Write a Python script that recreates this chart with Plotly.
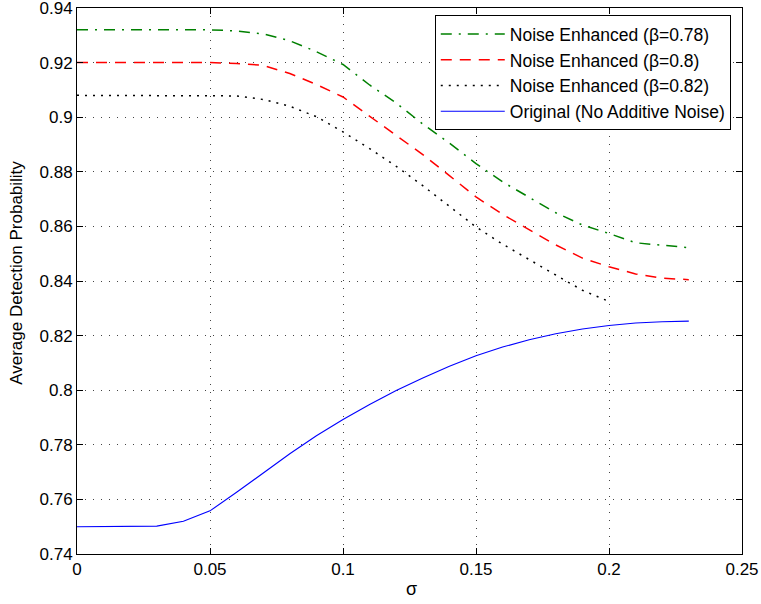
import plotly.graph_objects as go

sigma = [0.00, 0.01, 0.02, 0.03, 0.04, 0.05, 0.06, 0.07, 0.08, 0.09, 0.10, 0.11,
         0.12, 0.13, 0.14, 0.15, 0.16, 0.17, 0.18, 0.19, 0.20, 0.21, 0.22, 0.23]

pd_beta078 = [0.932, 0.932, 0.932, 0.932, 0.932, 0.932, 0.9316, 0.9305, 0.928, 0.924,
              0.9193, 0.9118, 0.9052, 0.8975, 0.8905, 0.883, 0.8763, 0.8705, 0.865,
              0.8605, 0.8574, 0.854, 0.8531, 0.8522]

pd_beta080 = [0.920, 0.920, 0.920, 0.920, 0.920, 0.920, 0.9197, 0.919, 0.916, 0.912,
              0.9074, 0.9003, 0.8933, 0.8863, 0.8786, 0.8708, 0.8644, 0.8588, 0.8532,
              0.8484, 0.8452, 0.8426, 0.841, 0.8405]

sigma_082 = sigma[:21]
pd_beta082 = [0.908, 0.908, 0.908, 0.908, 0.908, 0.908, 0.9078, 0.9065, 0.904, 0.9002,
              0.8946, 0.8885, 0.882, 0.8749, 0.8675, 0.8598, 0.8535, 0.848, 0.8422,
              0.8366, 0.8325]

pd_original = [0.750, 0.750, 0.750, 0.7502, 0.752, 0.7558, 0.7626, 0.7697, 0.7767, 0.7833,
               0.7893, 0.7948, 0.7999, 0.8045, 0.8088, 0.8126, 0.8158, 0.8185, 0.8207,
               0.8224, 0.8237, 0.8246, 0.8251, 0.8253]

series_names = ["Noise Enhanced (β=0.78)", "Noise Enhanced (β=0.8)",
                "Noise Enhanced (β=0.82)", "Original (No Additive Noise)"]

x_title = "σ"
y_title = "Average Detection Probability"

x_tickvals = [0, 0.05, 0.1, 0.15, 0.2, 0.25]
x_ticktext = ["0", "0.05", "0.1", "0.15", "0.2", "0.25"]
y_tickvals = [0.74, 0.76, 0.78, 0.80, 0.82, 0.84, 0.86, 0.88, 0.90, 0.92, 0.94]
y_ticktext = ["0.74", "0.76", "0.78", "0.8", "0.82", "0.84", "0.86", "0.88", "0.9", "0.92", "0.94"]

FONT = "Liberation Sans, Arial, Helvetica, sans-serif"

fig = go.Figure()
fig.add_trace(go.Scatter(x=sigma, y=pd_beta078, mode="lines", name=series_names[0],
                         line=dict(color="#008000", width=1.5, dash="11px,7px,2px,7px")))
fig.add_trace(go.Scatter(x=sigma, y=pd_beta080, mode="lines", name=series_names[1],
                         line=dict(color="#ff0000", width=1.5, dash="11px,8px")))
fig.add_trace(go.Scatter(x=sigma_082, y=pd_beta082, mode="lines", name=series_names[2],
                         line=dict(color="#000000", width=1.5, dash="2px,6px")))
fig.add_trace(go.Scatter(x=sigma, y=pd_original, mode="lines", name=series_names[3],
                         line=dict(color="#0000ff", width=1.1)))

axis_common = dict(
    showline=True, linecolor="black", linewidth=1, mirror="ticks",
    ticks="inside", ticklen=6, tickcolor="black", tickwidth=1,
    showgrid=True, gridcolor="#444444", gridwidth=1, griddash="1px,7px",
    zeroline=False, automargin=False, ticklabeloverflow="allow",
    tickfont=dict(family=FONT, size=17, color="black"),
)

fig.update_xaxes(range=[0, 0.25], tickvals=x_tickvals, ticktext=x_ticktext, **axis_common)
fig.update_yaxes(range=[0.74, 0.94], tickvals=y_tickvals, ticktext=y_ticktext, **axis_common)

fig.add_annotation(text=x_title, xref="paper", yref="paper", x=0.503, y=0,
                   xanchor="center", yanchor="top", yshift=-23, showarrow=False,
                   font=dict(family=FONT, size=18, color="black"))
fig.add_annotation(text=y_title, xref="paper", yref="paper", x=0, y=0.515,
                   xanchor="center", yanchor="middle", xshift=-60, textangle=-90,
                   showarrow=False, font=dict(family=FONT, size=17, color="black"))

fig.update_layout(
    width=761, height=604,
    margin=dict(l=77, r=19, t=8, b=50),
    paper_bgcolor="white", plot_bgcolor="white",
    font=dict(family=FONT, size=17, color="black"),
    showlegend=True,
    legend=dict(x=0.538, y=0.987, xanchor="left", yanchor="top",
                bgcolor="white", bordercolor="black", borderwidth=1,
                font=dict(family=FONT, size=17.5, color="black"),
                tracegroupgap=0, itemwidth=64),
)

fig.write_html("out.html", config={"displayModeBar": False},
               post_script="document.body.style.margin='0';")
